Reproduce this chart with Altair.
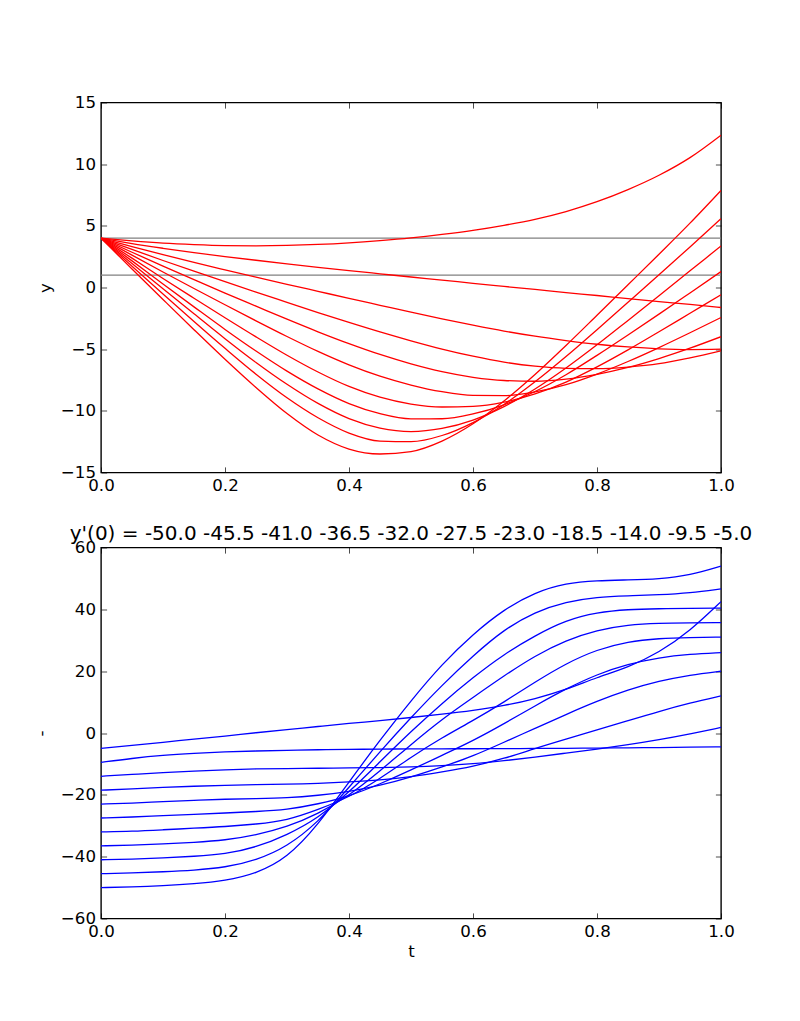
import altair as alt
import pandas as pd

# ---------------- data ----------------
T = [0.0, 0.05, 0.1, 0.15, 0.2, 0.25, 0.3, 0.35, 0.4, 0.45, 0.5,
     0.55, 0.6, 0.65, 0.7, 0.75, 0.8, 0.85, 0.9, 0.95, 1.0]

SLOPES = [-50.0, -45.5, -41.0, -36.5, -32.0, -27.5, -23.0, -18.5, -14.0, -9.5, -5.0]

# top panel: y(t) for each initial slope
Y_M50 = [4.0, 1.5, -0.97, -3.42, -5.82, -8.11, -10.22, -11.96, -13.1, -13.5, -13.3,
         -12.45, -11.05, -9.2, -7.05, -4.7, -2.25, 0.22, 2.7, 5.22, 7.87]
Y_M45_5 = [4.0, 1.73, -0.52, -2.75, -4.93, -7.03, -8.94, -10.56, -11.8, -12.45, -12.5,
           -12.0, -10.95, -9.48, -7.65, -5.6, -3.42, -1.2, 1.03, 3.29, 5.58]
Y_M41 = [4.0, 1.94, -0.1, -2.13, -4.15, -6.08, -7.85, -9.4, -10.63, -11.4, -11.68,
         -11.43, -10.75, -9.66, -8.23, -6.53, -4.65, -2.67, -0.67, 1.35, 3.37]
Y_M36_5 = [4.0, 2.16, 0.28, -1.57, -3.4, -5.15, -6.78, -8.22, -9.41, -10.23, -10.65,
           -10.64, -10.25, -9.51, -8.43, -7.07, -5.5, -3.85, -2.16, -0.44, 1.29]
Y_M32 = [4.0, 2.38, 0.73, -0.87, -2.45, -4.0, -5.49, -6.85, -8.02, -8.89, -9.45,
         -9.69, -9.64, -9.3, -8.63, -7.67, -6.44, -5.06, -3.59, -2.09, -0.59]
Y_M27_5 = [4.0, 2.62, 1.26, -0.08, -1.4, -2.7, -3.97, -5.18, -6.27, -7.19, -7.91,
           -8.45, -8.75, -8.77, -8.47, -7.88, -7.02, -6.0, -4.87, -3.67, -2.43]
Y_M23 = [4.0, 2.86, 1.74, 0.64, -0.45, -1.51, -2.57, -3.59, -4.55, -5.43, -6.19,
         -6.82, -7.28, -7.54, -7.6, -7.43, -7.04, -6.48, -5.76, -4.92, -3.99]
Y_M18_5 = [4.0, 3.09, 2.19, 1.32, 0.47, -0.37, -1.2, -2.03, -2.83, -3.6, -4.32,
           -4.99, -5.57, -6.05, -6.38, -6.55, -6.58, -6.45, -6.18, -5.7, -5.13]
Y_M14 = [4.0, 3.32, 2.66, 2.03, 1.43, 0.84, 0.26, -0.31, -0.88, -1.44, -2.0,
         -2.54, -3.05, -3.53, -3.95, -4.3, -4.6, -4.82, -4.97, -5.03, -5.0]
Y_M9_5 = [4.0, 3.56, 3.18, 2.83, 2.51, 2.21, 1.92, 1.64, 1.37, 1.11, 0.85,
          0.6, 0.34, 0.09, -0.16, -0.41, -0.65, -0.9, -1.14, -1.37, -1.62]
Y_M5 = [4.0, 3.78, 3.6, 3.48, 3.4, 3.38, 3.41, 3.49, 3.62, 3.8, 4.02,
        4.3, 4.63, 5.04, 5.53, 6.16, 6.96, 7.94, 9.1, 10.53, 12.35]

# bottom panel: y'(t) for each initial slope
YP_M50 = [-50.0, -49.8, -49.4, -48.8, -47.8, -45.5, -40.5, -29.8, -15.8, -2.3, 10.5,
          22.3, 32.0, 40.0, 45.5, 48.5, 49.3, 49.5, 49.8, 51.0, 54.0]
YP_M45_5 = [-45.5, -45.3, -44.9, -44.4, -43.5, -41.2, -36.8, -28.9, -17.6, -6.0, 5.0,
            15.5, 25.0, 33.5, 39.2, 42.5, 44.0, 44.4, 44.7, 45.3, 46.6]
YP_M41 = [-41.0, -40.8, -40.4, -39.9, -39.2, -37.0, -33.0, -27.6, -19.2, -9.3, 0.5,
          9.6, 18.0, 25.5, 31.5, 36.5, 39.0, 40.0, 40.2, 40.3, 40.4]
YP_M36_5 = [-36.5, -36.3, -35.9, -35.4, -34.7, -33.0, -30.4, -26.2, -20.3, -12.3, -3.7,
            4.5, 11.5, 18.5, 25.0, 30.0, 33.3, 35.0, 35.5, 35.6, 35.7]
YP_M32 = [-32.0, -31.8, -31.3, -30.8, -30.3, -29.5, -28.3, -24.8, -20.8, -14.8, -7.8,
          -1.5, 4.0, 10.0, 16.5, 22.5, 27.0, 29.6, 30.6, 30.9, 31.0]
YP_M27_5 = [-27.5, -27.2, -26.7, -26.3, -25.9, -25.4, -24.8, -23.0, -20.5, -16.5, -12.0,
            -7.2, -2.5, 3.0, 8.8, 14.3, 19.0, 22.3, 24.4, 25.5, 26.0]
YP_M23 = [-23.0, -22.7, -22.2, -21.8, -21.4, -21.2, -21.0, -20.2, -19.0, -17.0, -14.3,
          -11.0, -7.5, -3.0, 1.5, 6.0, 10.3, 14.0, 16.8, 18.8, 20.0]
YP_M18_5 = [-18.5, -18.1, -17.6, -17.2, -16.9, -16.7, -16.6, -16.3, -15.8, -15.2, -14.2,
            -12.6, -10.8, -8.3, -5.0, -2.0, 1.0, 4.0, 7.0, 9.7, 12.0]
YP_M14 = [-14.0, -13.4, -12.8, -12.3, -11.9, -11.6, -11.5, -11.4, -11.3, -11.2, -11.0,
          -10.6, -10.0, -9.0, -7.8, -6.5, -5.2, -3.8, -2.2, -0.3, 1.8]
YP_M9_5 = [-9.5, -8.2, -7.2, -6.6, -6.1, -5.8, -5.6, -5.4, -5.3, -5.2, -5.15,
           -5.1, -5.1, -5.05, -5.0, -4.95, -4.9, -4.8, -4.7, -4.6, -4.5]
YP_M5 = [-5.0, -4.0, -3.0, -2.0, -1.0, 0.1, 1.1, 2.1, 3.1, 4.0, 5.0,
         6.1, 7.3, 8.8, 11.0, 14.0, 18.0, 21.2, 26.0, 33.0, 42.5]

HLINES = [4.0, 1.0]
X_TICKS = [0.0, 0.2, 0.4, 0.6, 0.8, 1.0]
Y_TICKS_TOP = [-15, -10, -5, 0, 5, 10, 15]
Y_TICKS_BOTTOM = [-60, -40, -20, 0, 20, 40, 60]
TITLE = "y'(0) = -50.0 -45.5 -41.0 -36.5 -32.0 -27.5 -23.0 -18.5 -14.0 -9.5 -5.0"

Y_LIST = [Y_M50, Y_M45_5, Y_M41, Y_M36_5, Y_M32, Y_M27_5, Y_M23, Y_M18_5, Y_M14, Y_M9_5, Y_M5]
YP_LIST = [YP_M50, YP_M45_5, YP_M41, YP_M36_5, YP_M32, YP_M27_5, YP_M23, YP_M18_5, YP_M14, YP_M9_5, YP_M5]

rows = []
for s, ys, yps in zip(SLOPES, Y_LIST, YP_LIST):
    for t, y, yp in zip(T, ys, yps):
        rows.append({"t": t, "y": y, "yp": yp, "slope": s})
df = pd.DataFrame(rows)
hdf = pd.DataFrame({"h": HLINES})

# ---------------- styling ----------------
FONT = "DejaVu Sans"
FS = 16.67
W = 620
TICK = 5.6


def panel(field, yticks, ydomain, color, ytitle, ytitle_x, xtitle, height, with_hlines, interp):
    xs = alt.Scale(domain=[0, 1], nice=False, zero=False)
    ys = alt.Scale(domain=ydomain, nice=False, zero=False)

    if xtitle:
        x_axis = alt.Axis(orient="bottom", values=X_TICKS, format=".1f", ticks=False, tickSize=0,
                          labelPadding=5, titleY=33, titleBaseline="middle", titleAlign="center")
    else:
        x_axis = alt.Axis(orient="bottom", values=X_TICKS, format=".1f", ticks=False, tickSize=0,
                          labelPadding=5)
    y_axis = alt.Axis(orient="left", values=yticks, format="d", ticks=False, tickSize=0,
                      labelPadding=5.5, titleX=ytitle_x, titleY=height / 2, titleAngle=270,
                      titleBaseline="middle", titleAlign="center")

    lines = alt.Chart(df).mark_line(color=color, strokeWidth=1.3, interpolate=interp, clip=True).encode(
        x=alt.X("t:Q", scale=xs, axis=x_axis, title=xtitle if xtitle else None),
        y=alt.Y(f"{field}:Q", scale=ys, axis=y_axis, title=ytitle),
        detail="slope:N",
        order="t:Q",
    )

    ticks_a = alt.Chart(df).mark_point(opacity=0, size=1).encode(
        x=alt.X("t:Q", scale=xs, title=None,
                axis=alt.Axis(orient="top", offset=-height, values=X_TICKS, labels=False,
                              ticks=True, tickSize=TICK)),
        y=alt.Y(f"{field}:Q", scale=ys, title=None,
                axis=alt.Axis(orient="right", offset=-W, values=yticks, labels=False,
                              ticks=True, tickSize=TICK)),
    )
    ticks_b = alt.Chart(df).mark_point(opacity=0, size=1).encode(
        x=alt.X("t:Q", scale=xs, title=None,
                axis=alt.Axis(orient="bottom", offset=-height, values=X_TICKS, labels=False,
                              ticks=True, tickSize=TICK)),
        y=alt.Y(f"{field}:Q", scale=ys, title=None,
                axis=alt.Axis(orient="left", offset=-W, values=yticks, labels=False,
                              ticks=True, tickSize=TICK)),
    )

    layers = []
    if with_hlines:
        layers.append(
            alt.Chart(hdf).mark_rule(color="#808080", strokeWidth=1.3).encode(
                y=alt.Y("h:Q", scale=ys, axis=None)
            )
        )
    layers += [lines, ticks_a, ticks_b]
    return (
        alt.layer(*layers)
        .resolve_scale(x="shared", y="shared")
        .resolve_axis(x="independent", y="independent")
        .properties(width=W, height=height)
    )


top = panel("y", Y_TICKS_TOP, [-15, 15], "#ff0000", "y", -56, None, 370, True, "monotone")
bottom = panel("yp", Y_TICKS_BOTTOM, [-60, 60], "#0000ff", "-", -60, "t", 371, False, "basis").properties(
    title=alt.TitleParams(text=TITLE, font=FONT, fontSize=20, fontWeight="normal", color="black",
                          anchor="middle", frame="group", offset=0, baseline="alphabetic", dy=20)
)

chart = (
    alt.vconcat(top, bottom, spacing=75, bounds="flush")
    .properties(padding={"left": 24, "top": 85.5, "right": 10, "bottom": 10}, background="white")
    .configure(font=FONT)
    .configure_view(stroke="black", strokeWidth=1.39)
    .configure_axis(grid=False, domain=False, labelFont=FONT, labelFontSize=FS, labelColor="black",
                    titleFont=FONT, titleFontSize=FS, titleFontWeight="normal", titleColor="black",
                    tickColor="black", tickWidth=0.7, labelFlush=False, labelOverlap=False)
)

chart.save("out.html", embed_options={"renderer": "svg", "actions": False})
